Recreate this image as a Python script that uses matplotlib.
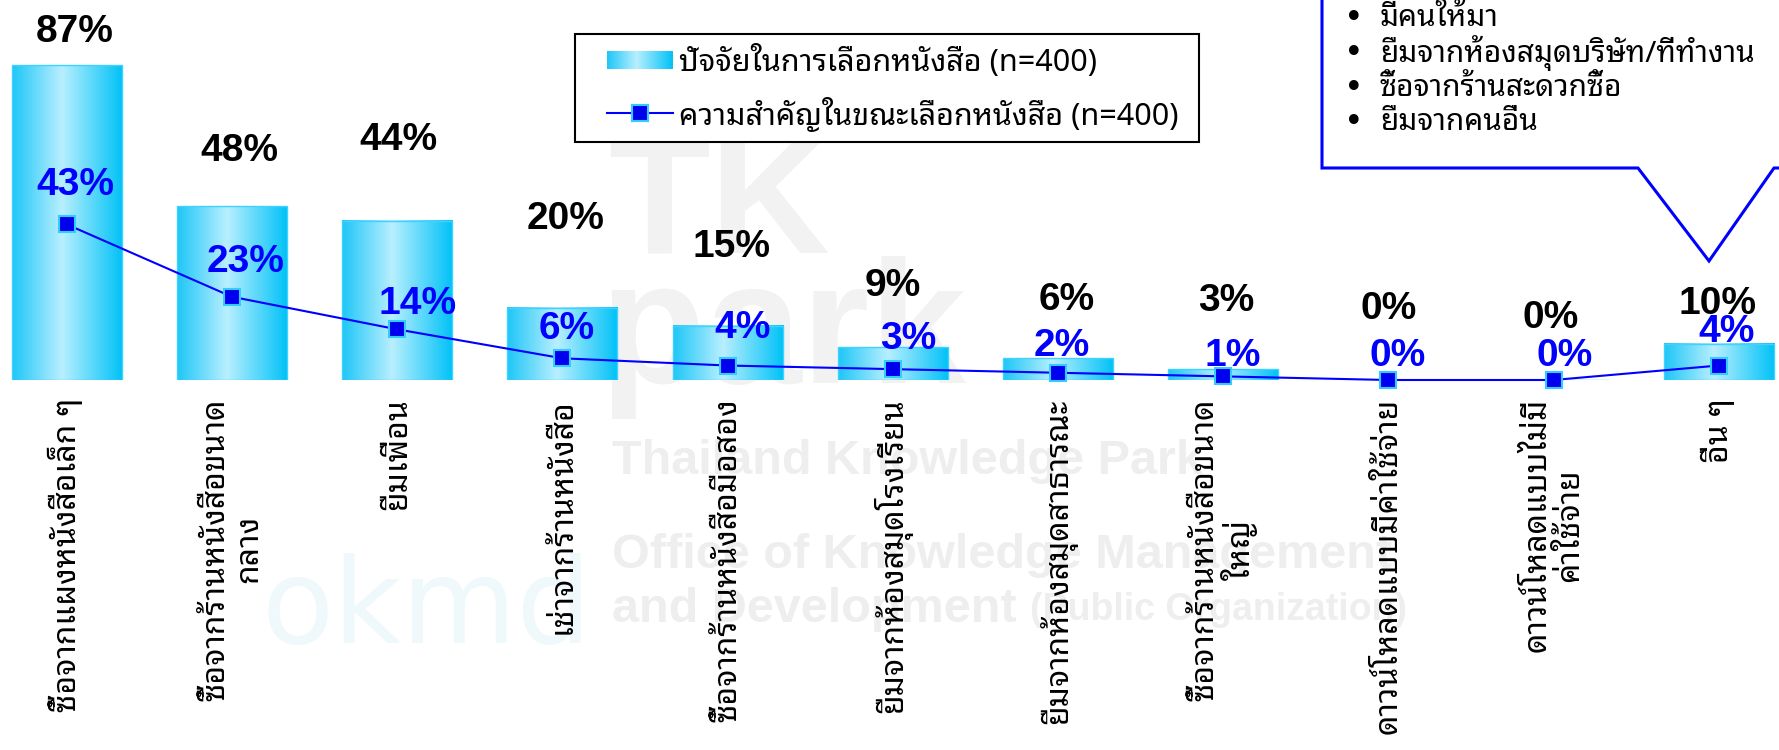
import numpy as np
import matplotlib
matplotlib.use("Agg")
import matplotlib.pyplot as plt
from matplotlib.colors import LinearSegmentedColormap
from matplotlib.patches import Rectangle, Polygon
from matplotlib.lines import Line2D

categories = [
    "ซื้อจากแผงหนังสือเล็ก ๆ",
    "ซื้อจากร้านหนังสือขนาด\nกลาง",
    "ยืมเพื่อน",
    "เช่าจากร้านหนังสือ",
    "ซื้อจากร้านหนังสือมือสอง",
    "ยืมจากห้องสมุดโรงเรียน",
    "ยืมจากห้องสมุดสาธารณะ",
    "ซื้อจากร้านหนังสือขนาด\nใหญ่",
    "ดาวน์โหลดแบบมีค่าใช้จ่าย",
    "ดาวน์โหลดแบบไม่มี\nค่าใช้จ่าย",
    "อื่น ๆ",
]
choice_pct = [87, 48, 44, 20, 15, 9, 6, 3, 0, 0, 10]
importance_pct = [43, 23, 14, 6, 4, 3, 2, 1, 0, 0, 4]
legend_labels = ["ปัจจัยในการเลือกหนังสือ (n=400)",
                 "ความสำคัญในขณะเลือกหนังสือ (n=400)"]
other_items = ["มีคนให้มา", "ยืมจากห้องสมุดบริษัท/ที่ทำงาน",
               "ซื้อจากร้านสะดวกซื้อ", "ยืมจากคนอื่น"]

# data labels were nudged by hand in the original slide (offsets in points)
bar_label_offsets = [(6, 24), (5, 40), (1, 58), (2, 64), (3, 57), (0, 44),
                     (6, 42), (2, 49), (0, 51), (-2, 45), (-1, 29)]
line_label_offsets = [(6, 28), (10, 25), (15, 18), (3, 21), (11, 27), (11, 22),
                      (3, 19), (7, 15), (7, 17), (8, 17), (6, 24)]

THAI = ["Noto Sans Thai Looped", "DejaVu Sans"]
NUM = "Liberation Sans"
BLUE = "#0000FF"

W, H = 1779, 750
fig = plt.figure(figsize=(W / 100, H / 100), dpi=100)


def fx(px):
    return px / W


def fy(py):
    return 1 - py / H


# --- faint watermark behind the chart ---
wm = dict(color="#EEEEEE", fontweight="bold", family=NUM, zorder=-5)
logo = dict(color="#F2F2F2", fontweight="bold", family=NUM, zorder=-5)
fig.text(fx(608), fy(252), "TK", fontsize=120, **logo)
fig.text(fx(600), fy(383), "park", fontsize=125, **logo)
fig.text(fx(612), fy(474), "Thailand Knowledge Park", fontsize=35, **wm)
fig.text(fx(612), fy(568), "Office of Knowledge Management", fontsize=35, **wm)
fig.text(fx(612), fy(622), "and Development", fontsize=35, **wm)
fig.text(fx(1030), fy(620), "(Public Organization)", fontsize=27, **wm)
fig.text(fx(262), fy(643), "okmd", fontsize=85, color="#EFF8FA",
         family="DejaVu Sans", zorder=-5)

# --- main chart ---
ax = fig.add_axes([0, fy(380), 1, 380 / H])
ax.patch.set_visible(False)
x = np.arange(len(categories))

bars = ax.bar(x, choice_pct, width=0.666, color="none",
              edgecolor="#3FD2FF", linewidth=1.0, zorder=2)
grad = np.linspace(0, 1, 256).reshape(1, -1)
cyl = LinearSegmentedColormap.from_list(
    "cyl", [(0, "#1EC6F7"), (0.45, "#B8EFFF"), (1, "#00C2F7")])
for b in bars:
    if b.get_height() <= 0:
        continue
    ax.imshow(grad, cmap=cyl, aspect="auto", zorder=1.5,
              extent=[b.get_x(), b.get_x() + b.get_width(), 0, b.get_height()])

ax.plot(x, importance_pct, color=BLUE, linewidth=1.5, marker="s",
        markersize=12, markerfacecolor="#0000EE", markeredgecolor="#33CCFF",
        markeredgewidth=1.5, zorder=4, clip_on=False)

for i, v in enumerate(choice_pct):
    ax.annotate(f"{v}%", xy=(i, v), xytext=bar_label_offsets[i],
                textcoords="offset points", ha="center", va="center",
                fontsize=28, fontweight="bold", family=NUM, color="black", zorder=5)

for i, v in enumerate(importance_pct):
    ax.annotate(f"{v}%", xy=(i, v), xytext=line_label_offsets[i],
                textcoords="offset points", ha="center", va="center",
                fontsize=28, fontweight="bold", family=NUM, color=BLUE, zorder=5)

for i, cat in enumerate(categories):
    ax.annotate(cat, xy=(i, 0), xycoords=("data", "axes fraction"),
                xytext=(0, -13), textcoords="offset points", rotation=90,
                ha="center", va="top", multialignment="center", linespacing=1.0,
                fontsize=23, fontweight="medium", family=THAI, color="black",
                annotation_clip=False)

ax.set_xlim(-0.404, 10.365)
ax.set_ylim(0, 105)
ax.axis("off")

# --- legend (drawn by hand to get the gradient swatch) ---
fig.add_artist(Rectangle((fx(575), fy(142)), fx(1199) - fx(575), (142 - 34) / H,
                         transform=fig.transFigure, facecolor="white",
                         edgecolor="black", linewidth=1.5, zorder=5))
sw = fig.add_axes([fx(607), fy(69), fx(673) - fx(607), (69 - 51) / H], zorder=6)
sw.imshow(grad, cmap=cyl, aspect="auto")
sw.axis("off")
fig.add_artist(Line2D([fx(607), fx(640), fx(673)], [fy(113)] * 3,
                      transform=fig.transFigure, color=BLUE, linewidth=1.5,
                      marker="s", markevery=[1], markersize=12,
                      markerfacecolor="#0000EE", markeredgecolor="#33CCFF",
                      markeredgewidth=1.5, zorder=6))
fig.text(fx(679), fy(62), legend_labels[0], va="center", fontsize=22,
         family=THAI, zorder=7)
fig.text(fx(679), fy(115), legend_labels[1], va="center", fontsize=22,
         family=THAI, zorder=7)

# --- callout for "other" ---
callout = [(1322, -20), (1322, 168), (1638, 168), (1709, 261), (1774, 168),
           (1800, 168), (1800, -20)]
fig.add_artist(Polygon([(fx(px), fy(py)) for px, py in callout], closed=True,
                       transform=fig.transFigure, facecolor="white",
                       edgecolor=BLUE, linewidth=2.2, zorder=5))
for k, item in enumerate(other_items):
    yy = fy(19 + 34.5 * k)
    fig.text(fx(1344), yy, "•", va="center", fontsize=24, family="DejaVu Sans", zorder=7)
    fig.text(fx(1380), yy, item, va="center", fontsize=21.5, family=THAI, zorder=7)

fig.savefig("out.png", dpi=100)
